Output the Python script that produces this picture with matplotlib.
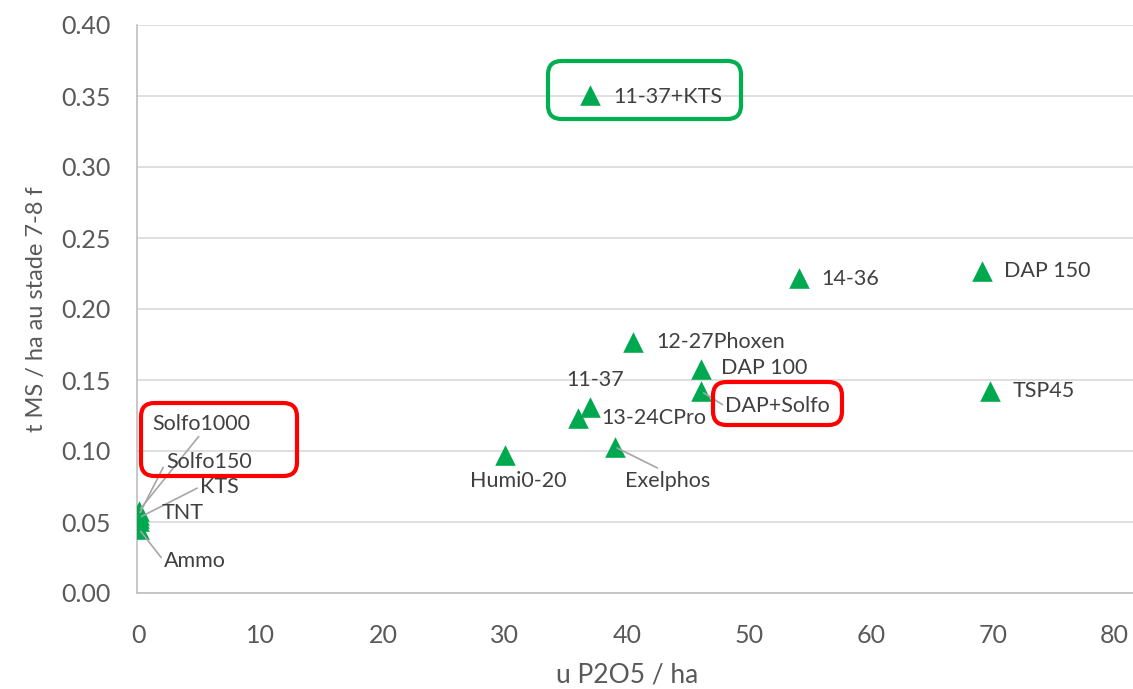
import matplotlib
matplotlib.use('Agg')
import matplotlib.pyplot as plt
from matplotlib.patches import FancyBboxPatch

plt.rcParams['font.family'] = ['Lato', 'DejaVu Sans']

# data
labels = ['11-37+KTS', '14-36', 'DAP 150', '12-27Phoxen', 'DAP 100', 'DAP+Solfo',
          'TSP45', '11-37', '13-24CPro', 'Exelphos', 'Humi0-20',
          'Solfo1000', 'Solfo150', 'KTS', 'TNT', 'Ammo']
p2o5 = [37.0, 54.1, 69.1, 40.5, 46.1, 46.1, 69.8, 37.0, 36.0, 39.0, 30.0,
        0.0, 0.0, 0.0, 0.0, 0.0]
ms = [0.351, 0.222, 0.227, 0.177, 0.158, 0.142, 0.142, 0.131, 0.123, 0.103, 0.097,
      0.058, 0.055, 0.053, 0.051, 0.045]

# label offsets in pixels (dx, dy) and leader line anchor on the label (None = no line)
offsets = [(23, -2), (22, -1), (22, 0), (23, 0), (20, 1), (24, -15),
           (22, 0), (-24, 27), (23, 0), (10, -34), (-35, -26),
           (13, 87), (27, 53), (61, 31), (23, 8), (25, -32)]
leaders = [None, None, None, None, None, (0, 0.5),
           None, None, None, (0.45, 1), None,
           (0.5, 0), (0, 0.5), (0, 0.5), None, (0, 0.5)]

W, H = 1133, 689
fig = plt.figure(figsize=(W / 100, H / 100), dpi=100)
ax = fig.add_axes([137 / W, (H - 593) / H, (W - 137) / W, 568 / H])

ax.scatter(p2o5, ms, marker='^', s=220, color='#00a94f', zorder=3, linewidths=0)

for lab, x, y, off, lead in zip(labels, p2o5, ms, offsets, leaders):
    kw = {}
    if lead is not None:
        kw['arrowprops'] = dict(arrowstyle='-', color='#a6a6a6', lw=1.2,
                                shrinkA=0, shrinkB=2, relpos=lead)
    ax.annotate(lab, (x, y), xytext=off, textcoords='offset pixels',
                ha='left', va='center', fontsize=15.5, color='#404040', zorder=4, **kw)

ax.set_xlim(-0.16, 81.5)
ax.set_ylim(0, 0.40)
ax.set_xticks(range(0, 81, 10))
ax.set_yticks([i * 0.05 for i in range(9)])
ax.set_yticklabels(['%.2f' % (i * 0.05) for i in range(9)])
ax.yaxis.grid(True, color='#d9d9d9', lw=1.2)
ax.set_axisbelow(True)
for s in ['top', 'right']:
    ax.spines[s].set_visible(False)
for s in ['left', 'bottom']:
    ax.spines[s].set_color('#bfbfbf')
    ax.spines[s].set_linewidth(1.2)
ax.tick_params(length=0, labelsize=18, colors='#595959')
ax.tick_params(axis='y', pad=19)
ax.tick_params(axis='x', pad=22)
ax.set_xlabel('u P2O5 / ha', fontsize=19, color='#595959')
ax.set_ylabel('t MS / ha au stade 7-8 f', fontsize=17, color='#595959')
ax.xaxis.set_label_coords((627 - 137) / (W - 137), (593 - 663) / 568)
ax.yaxis.set_label_coords((47 - 137) / (W - 137), 0.5)

# highlight boxes (pixel coords)
boxes = [((548, 61, 741, 119), '#00b050'),
         ((141, 403, 297, 476), '#ff0000'),
         ((713, 382, 842, 425), '#ff0000')]
for (x0, y0, x1, y1), c in boxes:
    p = FancyBboxPatch((x0 / W, 1 - y1 / H), (x1 - x0) / W, (y1 - y0) / H,
                       boxstyle='round,pad=0,rounding_size=0.012',
                       transform=fig.transFigure, fill=False, edgecolor=c, lw=3,
                       mutation_aspect=W / H, zorder=5)
    fig.patches.append(p)

fig.savefig('out.png', dpi=100)
